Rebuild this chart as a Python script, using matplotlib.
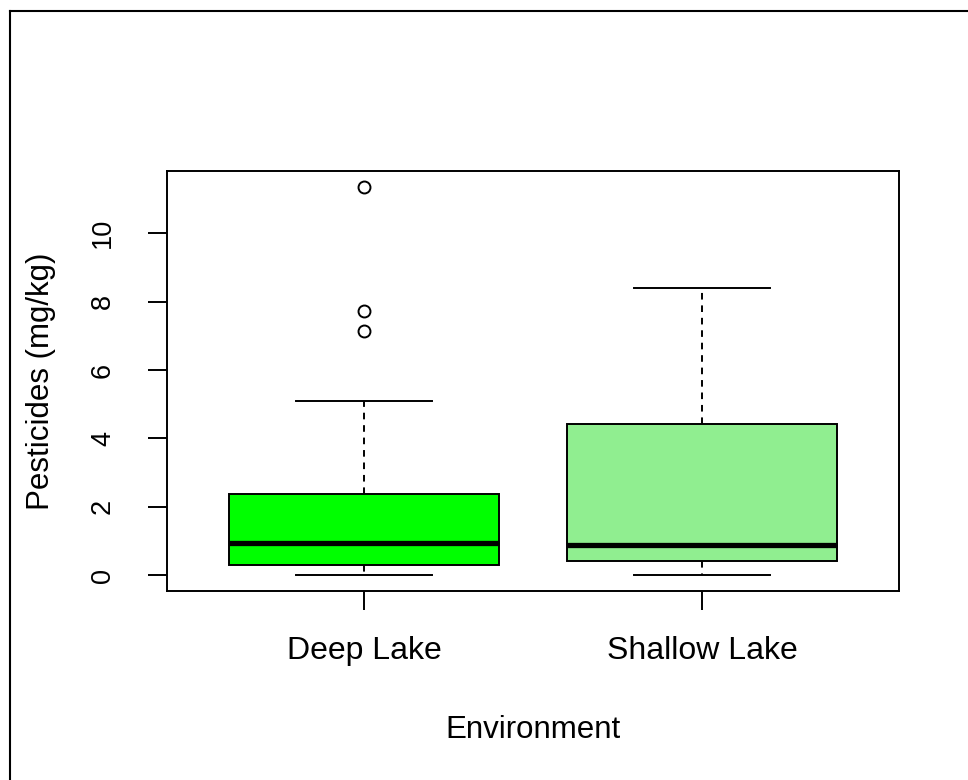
import matplotlib
matplotlib.use("Agg")
import matplotlib.pyplot as plt
from matplotlib.lines import Line2D

# Box summaries (mg/kg)
environments = ["Deep Lake", "Shallow Lake"]
box_colors = ["#00FF00", "#90EE90"]
q1 = [0.30, 0.42]
medians = [0.94, 0.89]
q3 = [2.38, 4.43]
whisker_low = [0.0, 0.0]
whisker_high = [5.10, 8.41]
outliers = [[11.36, 7.74, 7.15], []]
y_ticks = [0, 2, 4, 6, 8, 10]

plt.rcParams['font.family'] = ['Liberation Sans', 'DejaVu Sans']

fig = plt.figure(figsize=(9.68, 7.8), dpi=100)
ax = fig.add_axes([167 / 968, 1 - 591 / 780, 732 / 968, 420 / 780])

stats = []
for i, name in enumerate(environments):
    stats.append({
        'label': name,
        'med': medians[i],
        'q1': q1[i],
        'q3': q3[i],
        'whislo': whisker_low[i],
        'whishi': whisker_high[i],
        'fliers': outliers[i],
    })

lw = 1.4
bp = ax.bxp(stats, positions=[1, 2], widths=0.8, capwidths=0.4,
            patch_artist=True, showfliers=True,
            boxprops=dict(linewidth=lw, edgecolor='black'),
            medianprops=dict(color='black', linewidth=3.8, solid_capstyle='butt'),
            whiskerprops=dict(color='black', linewidth=lw, linestyle=(0, (3.4, 3.0))),
            capprops=dict(color='black', linewidth=lw),
            flierprops=dict(marker='o', markersize=8.6, markerfacecolor='none',
                            markeredgecolor='black', markeredgewidth=lw))
for patch, c in zip(bp['boxes'], box_colors):
    patch.set_facecolor(c)

# R-like axis ranges (4% padding)
ax.set_xlim(0.417, 2.583)
ax.set_ylim(-0.46, 11.82)

for s in ax.spines.values():
    s.set_linewidth(lw)

ax.set_xticks([1, 2])
ax.set_xticklabels(environments, fontsize=23)
ax.set_yticks(y_ticks)
ax.set_yticklabels([str(t) for t in y_ticks], rotation=90, va='center', fontsize=19.5)
ax.tick_params(axis='both', length=13.7, width=lw, direction='out')
ax.tick_params(axis='y', pad=23)
ax.tick_params(axis='x', pad=19)

ax.set_xlabel("Environment", fontsize=22.5)
ax.set_ylabel("Pesticides (mg/kg)", fontsize=22.5)
ax.xaxis.set_label_coords(0.5, -0.295)
ax.yaxis.set_label_coords(-0.152, 0.5)

# partial frame around the figure (as in the screenshot)
fig.add_artist(Line2D([9.5 / 968, 9.5 / 968], [0, 1 - 11 / 780], color='black', lw=1.5,
                      transform=fig.transFigure))
fig.add_artist(Line2D([9.5 / 968, 1], [1 - 11 / 780, 1 - 11 / 780], color='black', lw=1.5,
                      transform=fig.transFigure))

fig.savefig("out.png", dpi=100)
